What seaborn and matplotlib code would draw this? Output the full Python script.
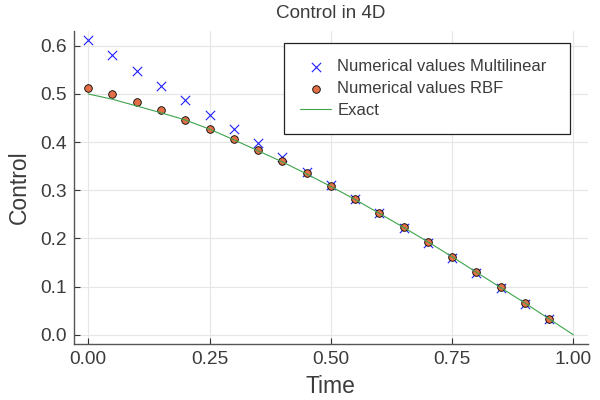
import matplotlib
matplotlib.use("Agg")
import matplotlib.pyplot as plt
import seaborn as sns
import pandas as pd

# ---- data ----
t_points = [0.00, 0.05, 0.10, 0.15, 0.20, 0.25, 0.30, 0.35, 0.40, 0.45,
            0.50, 0.55, 0.60, 0.65, 0.70, 0.75, 0.80, 0.85, 0.90, 0.95]
multilinear = [0.613, 0.581, 0.548, 0.517, 0.487, 0.457, 0.427, 0.398, 0.369, 0.339,
               0.310, 0.281, 0.252, 0.222, 0.191, 0.160, 0.129, 0.097, 0.065, 0.032]
rbf = [0.513, 0.499, 0.483, 0.466, 0.447, 0.427, 0.406, 0.383, 0.360, 0.335,
       0.309, 0.281, 0.253, 0.223, 0.193, 0.162, 0.131, 0.099, 0.066, 0.033]
t_exact = [0.00, 0.05, 0.10, 0.15, 0.20, 0.25, 0.30, 0.35, 0.40, 0.45, 0.50,
           0.55, 0.60, 0.65, 0.70, 0.75, 0.80, 0.85, 0.90, 0.95, 1.00]
exact = [0.500, 0.489, 0.475, 0.461, 0.446, 0.427, 0.405, 0.382, 0.359, 0.334, 0.308,
         0.281, 0.252, 0.223, 0.193, 0.162, 0.130, 0.098, 0.066, 0.033, 0.000]

xticks = [0.00, 0.25, 0.50, 0.75, 1.00]
xtick_labels = ["0.00", "0.25", "0.50", "0.75", "1.00"]
yticks = [0.0, 0.1, 0.2, 0.3, 0.4, 0.5, 0.6]
ytick_labels = ["0.0", "0.1", "0.2", "0.3", "0.4", "0.5", "0.6"]

label_ml = "Numerical values Multilinear"
label_rbf = "Numerical values RBF"
label_exact = "Exact"

sns.set_theme(style="white")
plt.rcParams["font.family"] = ["Liberation Sans", "DejaVu Sans"]

text_col = "#3c3c3c"

df_ml = pd.DataFrame({"t": t_points, "v": multilinear})
df_rbf = pd.DataFrame({"t": t_points, "v": rbf})
df_ex = pd.DataFrame({"t": t_exact, "v": exact})

fig = plt.figure(figsize=(6, 4), dpi=100)
ax = fig.add_axes([0.1228, 0.1408, 0.98 - 0.1228, 0.9233 - 0.1408])

sns.scatterplot(data=df_ml, x="t", y="v", ax=ax, marker="x", color="#1f1fff",
                s=45, linewidth=0.8, label=label_ml, zorder=3)
sns.scatterplot(data=df_rbf, x="t", y="v", ax=ax, marker="o", color="#e26f46",
                s=30, edgecolor="black", linewidth=0.6, label=label_rbf, zorder=4)
sns.lineplot(data=df_ex, x="t", y="v", ax=ax, color="#3da44d", linewidth=0.8,
             label=label_exact, zorder=5)

ax.set_xlim(-0.03, 1.03)
ax.set_ylim(-0.0184, 0.6314)
ax.set_xticks(xticks)
ax.set_xticklabels(xtick_labels)
ax.set_yticks(yticks)
ax.set_yticklabels(ytick_labels)

ax.grid(True, color="#e6e6e6", linewidth=0.8)
ax.set_axisbelow(True)
for side in ["top", "right"]:
    ax.spines[side].set_visible(False)
for side in ["left", "bottom"]:
    ax.spines[side].set_color("#555555")
    ax.spines[side].set_linewidth(1.0)

ax.tick_params(axis="both", direction="in", length=4, width=0.8, color="#333333",
               labelsize=13.8, labelcolor=text_col, pad=5)
ax.tick_params(axis="both", which="both", left=True, bottom=True)

ax.set_title("Control in 4D", fontsize=13.6, color=text_col, pad=9)
ax.set_xlabel("Time", fontsize=16.5, color=text_col, labelpad=5)
ax.set_ylabel("Control", fontsize=16.5, color=text_col, labelpad=7)

leg = ax.legend(loc="upper left", bbox_to_anchor=(0.4089, 0.5, 0.556, 0.46),
                mode="expand", borderaxespad=0, fontsize=12, frameon=True,
                fancybox=False, edgecolor="#222222", framealpha=1,
                handlelength=1.9, handletextpad=0.35, labelspacing=0.42,
                borderpad=0.95)
leg.get_frame().set_linewidth(0.9)
for txt in leg.get_texts():
    txt.set_color(text_col)

fig.savefig("out.png", dpi=100)
